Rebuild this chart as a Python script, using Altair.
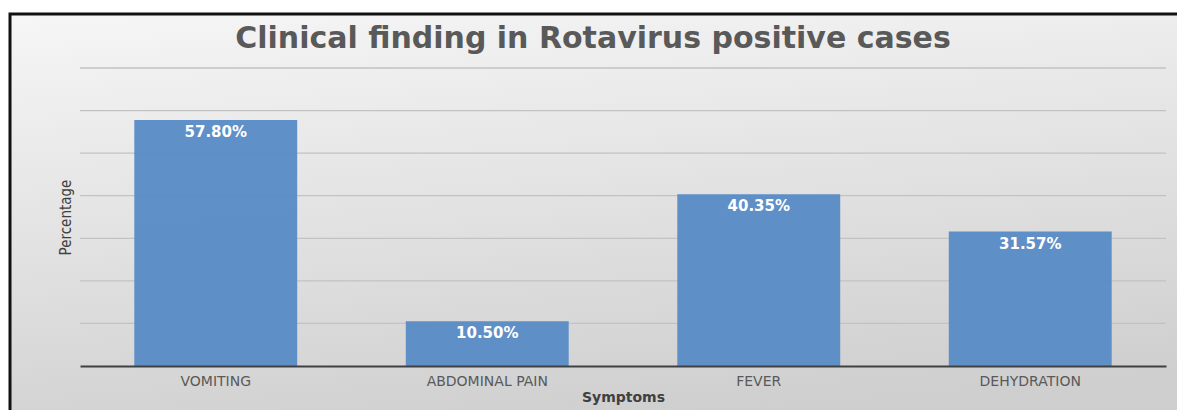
import altair as alt
import pandas as pd

categories = ["VOMITING", "ABDOMINAL PAIN", "FEVER", "DEHYDRATION"]
values = [57.80, 10.50, 40.35, 31.57]
grid_values = [10, 20, 30, 40, 50, 60, 70]
title_text = "Clinical finding in Rotavirus positive cases"

df = pd.DataFrame({"symptom": categories, "value": values})
grid_df = pd.DataFrame({"g": grid_values})

W, H = 1086, 298

x_enc = alt.X("symptom:N", sort=categories,
              scale=alt.Scale(paddingInner=0.4, paddingOuter=0.2),
              axis=alt.Axis(title="Symptoms", labelAngle=0, labelFont="DejaVu Sans",
                            labelFontSize=14, labelColor="#595959", labelPadding=8,
                            ticks=False, domainColor="#404040", domainWidth=2,
                            titleFont="DejaVu Sans", titleFontSize=14, titleFontWeight="bold",
                            titleColor="#404040", titlePadding=2, zindex=1))
y_scale = alt.Scale(domain=[0, 70], nice=False)
y_enc = alt.Y("value:Q", scale=y_scale,
              axis=alt.Axis(title="Percentage", labels=False, ticks=False, domain=False,
                            grid=False, zindex=1,
                            titleFont="DejaVu Sans Condensed", titleFontSize=15,
                            titleFontWeight="normal", titleColor="#404040", titlePadding=7))

bg = alt.Chart(pd.DataFrame({"a": [0]})).mark_rect(
    fill=alt.Gradient(gradient="linear", x1=0, y1=0, x2=0.25, y2=1,
                      stops=[alt.GradientStop(offset=0, color="#f6f6f6"),
                             alt.GradientStop(offset=1, color="#cfcfcf")]),
    stroke="#111111", strokeWidth=3
).encode(x=alt.value(-70), x2=alt.value(W + 40), y=alt.value(-54), y2=alt.value(H + 80))

grid = alt.Chart(grid_df).mark_rule(color="#c2c2c2", strokeWidth=1.3).encode(
    y=alt.Y("g:Q", scale=y_scale), x=alt.value(0), x2=alt.value(W))

bars = alt.Chart(df).mark_bar(color="#5b8cc6", opacity=0.97).encode(x=x_enc, y=y_enc)

labels = alt.Chart(df).transform_calculate(
    lab="format(datum.value, '.2f') + '%'"
).mark_text(color="white", font="DejaVu Sans", fontWeight="bold", fontSize=15,
            baseline="top", dy=5).encode(x=alt.X("symptom:N", sort=categories),
                                         y="value:Q", text="lab:N")

title = alt.Chart(pd.DataFrame({"t": [title_text]})).mark_text(
    font="DejaVu Sans", fontWeight="bold", fontSize=30, color="#595959",
    baseline="alphabetic", align="center"
).encode(x=alt.value(513), y=alt.value(-20), text="t:N")

chart = alt.layer(bg, grid, bars, labels, title).properties(
    width=W, height=H,
    autosize=alt.AutoSizeParams(type="none"),
    padding={"left": 72, "top": 60, "right": 11, "bottom": 44},
    background="white"
).configure_view(strokeWidth=0)

chart.save("out.html", embed_options={"renderer": "svg", "actions": False})
